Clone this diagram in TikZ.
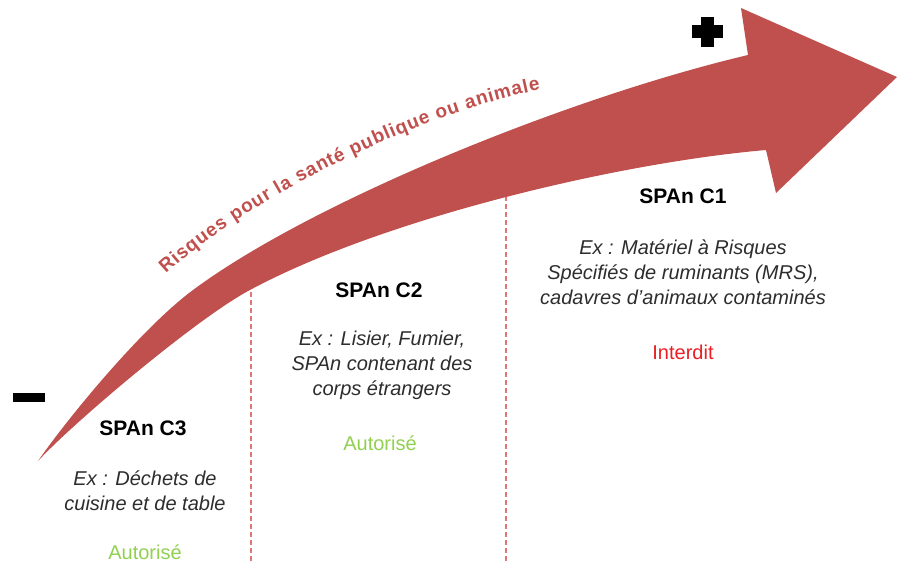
\documentclass[tikz,border=0pt]{standalone}
\usepackage{fontspec}
\setmainfont{Liberation Sans}
\usetikzlibrary{decorations.text}
\definecolor{arrowred}{RGB}{192,80,77}
\definecolor{dashred}{RGB}{222,120,118}
\definecolor{okgreen}{RGB}{146,208,80}
\definecolor{nored}{RGB}{235,30,35}
\definecolor{bodygray}{RGB}{45,45,45}
\tikzset{
  title/.style={font=\fontsize{21}{24}\selectfont\bfseries, text=black, inner sep=0pt},
  example/.style={font=\fontsize{20}{25}\selectfont\itshape, text=bodygray, align=center, inner sep=0pt},
  okstat/.style={font=\fontsize{20}{22}\selectfont, text=okgreen, inner sep=0pt},
  nostat/.style={font=\fontsize{20}{22}\selectfont, text=nored, inner sep=0pt},
  divider/.style={dashred, line width=1.2pt, dash pattern=on 5pt off 3pt},
  sign/.style={fill=black, draw=none}
}
\begin{document}
\begin{tikzpicture}[x=1pt, y=-1pt]
\useasboundingbox (0,0) rectangle (897,563);
\fill[white] (0,0) rectangle (897,563);

% dividers
\coordinate (d1top) at (251,292);
\coordinate (d1bot) at (251,563);
\coordinate (d2top) at (506,196);
\coordinate (d2bot) at (506,563);
\draw[divider] (d1top) -- (d1bot);
\draw[divider] (d2top) -- (d2bot);

% big arrow
\fill[arrowred]
  (38,461) .. controls (70,415) and (143,327) .. (193,290)
  .. controls (313,201) and (570,97) .. (748,55)
  -- (741,8) -- (897,77) -- (776,193) -- (766,150)
  .. controls (616,163) and (382,219) .. (250,290)
  .. controls (197,318) and (73,423) .. (38,461)
  -- cycle;

% label along the arrow
\path[decorate, decoration={text along path, text align=fit to path,
  text={|\fontsize{19}{19}\selectfont\bfseries\color{arrowred}|Risques pour la santé publique ou animale}}]
  (166,274) .. controls (240,205) and (410,115) .. (540,90);

% plus and minus
\fill[sign] (13,393) rectangle (45,402);
\fill[sign] (701,17) rectangle (714,47);
\fill[sign] (692,25) rectangle (723,38);

% C3
\node[title] (c3) at (143,428) {SPAn C3};
\node[example] (c3ex) at (145,491) {Ex : Déchets de\\cuisine et de table};
\node[okstat] (c3st) at (145,552) {Autorisé};

% C2
\node[title] (c2) at (379,290) {SPAn C2};
\node[example] (c2ex) at (382,365) {Ex : Lisier, Fumier,\\SPAn contenant des\\corps étrangers};
\node[okstat] (c2st) at (380,443) {Autorisé};

% C1
\node[title] (c1) at (683,196) {SPAn C1};
\node[example] (c1ex) at (683,272) {Ex : Matériel à Risques\\Spécifiés de ruminants (MRS),\\cadavres d’animaux contaminés};
\node[nostat] (c1st) at (683,352) {Interdit};
\end{tikzpicture}
\end{document}
